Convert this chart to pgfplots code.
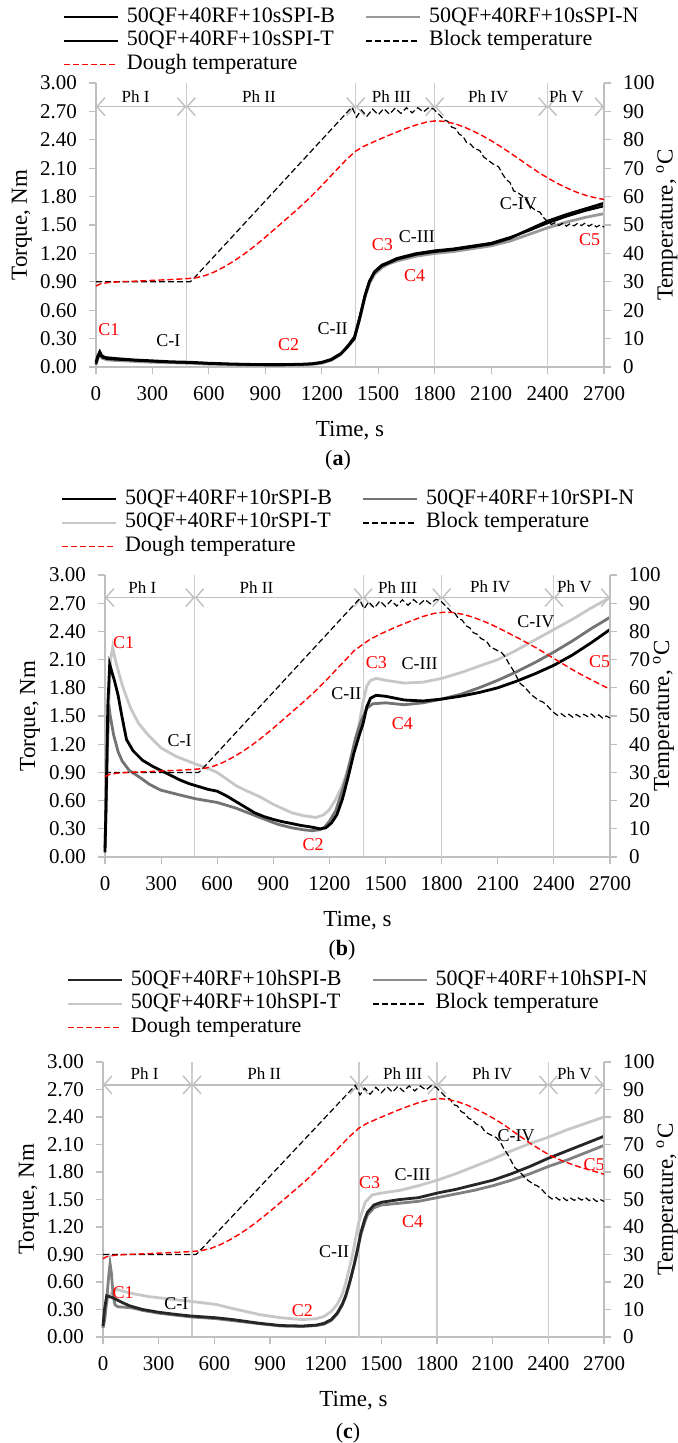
\documentclass[border=0pt]{standalone}
\usepackage{fontspec}
\setmainfont{Liberation Serif}
\usepackage{pgfplots}
\pgfplotsset{compat=1.18}
\usetikzlibrary{arrows.meta}
\definecolor{axgray}{RGB}{191,191,191}
\definecolor{phgray}{RGB}{205,205,205}
\definecolor{cred}{RGB}{255,0,0}
\pgfplotsset{
  common/.style={scale only axis, xmin=0, xmax=2700, clip=false,
    tick align=outside, major tick length=3.5pt,
    every tick/.style={axgray, line width=0.6pt},
    axis line style={axgray, line width=0.7pt},
    ticklabel style={font=\fontsize{10.5}{12}\selectfont},
    /pgf/number format/assume math mode=true,
    label style={font=\fontsize{11.5}{13}\selectfont},
  },
  torque/.style={common, axis x line*=bottom, axis y line*=left,
    ymin=0, ymax=3, ytick={0,0.3,0.6,0.9,1.2,1.5,1.8,2.1,2.4,2.7,3},
    yticklabel style={/pgf/number format/.cd, fixed, fixed zerofill, precision=2, /tikz/.cd, xshift=-2.5pt},
    xtick={0,300,...,2700}, xticklabel style={/pgf/number format/1000 sep={}, yshift=-2.5pt},
    xlabel={Time, s}, ylabel={Torque, Nm},
    xlabel style={at={(axis description cs:0.5,0)}, anchor=center, yshift=-32pt},
  },
  temp/.style={common, axis x line=none, xtick=\empty, axis y line*=right,
    ymin=0, ymax=100, ytick={0,10,...,100},
    yticklabel style={xshift=2.5pt},
    ylabel={Temperature, \textsuperscript{o}C},
    legend columns=2, legend cell align=left,
    legend image code/.code={\draw[##1] (0pt,0pt) -- (27pt,0pt);},
    legend style={draw=none, fill=none, inner sep=0pt, outer sep=0pt, anchor=north west,
      font=\fontsize{11}{13}\selectfont, row sep=1.75pt,
      nodes={inner sep=0pt, text height=7.5pt, text depth=2.5pt},
      /tikz/every odd column/.append style={column sep=4pt},
      /tikz/every even column/.append style={column sep=15pt}},
  },
  phline/.style={phgray, line width=0.6pt, forget plot},
  pharrow/.style={axgray, line width=0.7pt, {Straight Barb[length=4pt,width=9pt]}-{Straight Barb[length=4pt,width=9pt]}, forget plot},
  tq/.style={line width=1.4pt},
  blk/.style={black, line width=0.6pt, dash pattern=on 3pt off 1.5pt},
  dgh/.style={cred, line width=0.7pt, dash pattern=on 3pt off 1.5pt},
}
\newcommand{\phfont}{\fontsize{8.5}{10}\selectfont}
\newcommand{\cfont}{\fontsize{9}{10}\selectfont}
\begin{document}
\begin{tikzpicture}
\useasboundingbox (0,0) rectangle (338.5pt,-721.5pt);

% ================= (a) =================
\begin{axis}[torque, at={(48pt,-41.5pt)}, anchor=north west, width=254pt, height=142pt,
  ylabel style={at={(axis description cs:-0.146,0.5)}, anchor=center}]
\addplot[phline] coordinates {(480,0)(480,3)};
\addplot[phline] coordinates {(1380,0)(1380,3)};
\addplot[phline] coordinates {(1800,0)(1800,3)};
\addplot[phline] coordinates {(2400,0)(2400,3)};
\addplot[pharrow] coordinates {(0,2.75)(480,2.75)};
\addplot[pharrow] coordinates {(480,2.75)(1380,2.75)};
\addplot[pharrow] coordinates {(1380,2.75)(1800,2.75)};
\addplot[pharrow] coordinates {(1800,2.75)(2400,2.75)};
\addplot[pharrow] coordinates {(2400,2.75)(2700,2.75)};
\node[font=\phfont] at (axis cs:210,2.86) {Ph I};
\node[font=\phfont] at (axis cs:866,2.86) {Ph II};
\node[font=\phfont] at (axis cs:1570,2.86) {Ph III};
\node[font=\phfont] at (axis cs:2085,2.86) {Ph IV};
\node[font=\phfont] at (axis cs:2500,2.86) {Ph V};
% N
\addplot[tq, black!40] coordinates {(0,0.02)(10,0.09)(20,0.12)(35,0.09)(60,0.075)(100,0.07)(200,0.06)(300,0.05)(400,0.045)(500,0.04)(600,0.03)(700,0.025)(800,0.02)(900,0.018)(1000,0.018)(1100,0.022)(1150,0.028)(1200,0.04)(1250,0.07)(1300,0.13)(1340,0.22)(1373,0.3)(1400,0.5)(1430,0.74)(1453,0.88)(1480,0.98)(1520,1.05)(1556,1.09)(1600,1.12)(1700,1.17)(1800,1.2)(1900,1.22)(2000,1.25)(2100,1.28)(2200,1.33)(2300,1.4)(2400,1.47)(2500,1.53)(2600,1.58)(2700,1.62)};
% B
\addplot[tq, black] coordinates {(0,0.05)(10,0.12)(20,0.16)(30,0.12)(50,0.1)(100,0.09)(200,0.075)(300,0.065)(400,0.055)(500,0.05)(600,0.04)(700,0.033)(800,0.028)(900,0.025)(1000,0.025)(1100,0.03)(1150,0.035)(1200,0.05)(1250,0.08)(1300,0.14)(1340,0.22)(1373,0.3)(1400,0.5)(1430,0.75)(1453,0.9)(1480,1.0)(1520,1.07)(1556,1.1)(1600,1.14)(1700,1.19)(1800,1.22)(1900,1.24)(2000,1.27)(2100,1.3)(2200,1.36)(2300,1.45)(2400,1.54)(2500,1.61)(2600,1.67)(2700,1.73)};
% T
\addplot[line width=1.1pt, black] coordinates {(0,0.03)(10,0.1)(20,0.13)(35,0.1)(60,0.085)(100,0.08)(200,0.07)(300,0.06)(400,0.05)(500,0.045)(600,0.035)(700,0.03)(800,0.025)(900,0.022)(1000,0.022)(1100,0.027)(1150,0.032)(1200,0.045)(1250,0.075)(1300,0.135)(1340,0.23)(1373,0.32)(1400,0.52)(1430,0.77)(1453,0.91)(1480,1.01)(1520,1.08)(1556,1.11)(1600,1.15)(1700,1.2)(1800,1.23)(1900,1.25)(2000,1.28)(2100,1.31)(2200,1.37)(2300,1.44)(2400,1.52)(2500,1.59)(2600,1.65)(2700,1.7)};
\node[font=\cfont, text=cred] at (axis cs:69,0.39) {C1};
\node[font=\cfont] at (axis cs:385,0.28) {C-I};
\node[font=\cfont, text=cred] at (axis cs:1024,0.24) {C2};
\node[font=\cfont] at (axis cs:1258,0.41) {C-II};
\node[font=\cfont, text=cred] at (axis cs:1522,1.29) {C3};
\node[font=\cfont] at (axis cs:1705,1.38) {C-III};
\node[font=\cfont, text=cred] at (axis cs:1694,0.97) {C4};
\node[font=\cfont] at (axis cs:2245,1.73) {C-IV};
\node[font=\cfont, text=cred] at (axis cs:2624,1.35) {C5};
\end{axis}
\begin{axis}[temp, at={(48pt,-41.5pt)}, anchor=north west, width=254pt, height=142pt,
  ylabel style={at={(axis description cs:1.124,0.5)}, anchor=center},
  legend style={at={(-0.065,1.266)}}]
\addlegendimage{black, line width=1pt}\addlegendentry{50QF+40RF+10sSPI-B}
\addlegendimage{black!40, line width=1pt}\addlegendentry{50QF+40RF+10sSPI-N}
\addlegendimage{black, line width=1pt}\addlegendentry{50QF+40RF+10sSPI-T}
\addplot[blk] coordinates {(0,30)(500,30)(510,30.5)(1360,91.5)(1385,88)(1410,90.5)(1440,88.3)(1470,90.8)(1500,88.8)(1530,91)(1560,89)(1590,91.2)(1620,89.3)(1650,91.3)(1680,89.5)(1710,91.3)(1740,89.8)(1770,91.4)(1795,90.8)(1810,89.8)(1830,88.5)(1850,87)(1870,86.5)(1890,84.5)(1910,84)(1930,82)(1950,81.3)(1970,79)(1990,78.5)(2010,77)(2040,76.2)(2060,74)(2090,72.5)(2110,71.5)(2140,70.5)(2160,68)(2180,66)(2200,65)(2220,62)(2240,61.5)(2260,60.5)(2280,59.5)(2300,57)(2320,56)(2340,55)(2360,54.5)(2380,52.5)(2400,51.2)(2420,50.2)(2440,50.8)(2460,49.8)(2480,50.6)(2500,49.6)(2520,50.5)(2540,49.7)(2560,50.6)(2580,49.8)(2600,50.7)(2620,49.6)(2640,50.4)(2660,49.3)(2680,50)(2700,49.3)};
\addlegendentry{Block temperature}
\addplot[dgh] coordinates {(0,28.5)(20,29.2)(60,29.7)(120,30)(200,30.2)(300,30.5)(400,30.8)(480,31.1)(530,31.4)(580,32.2)(630,33.5)(680,35.2)(730,37.2)(780,39.4)(830,41.9)(880,44.6)(930,47.4)(980,50.3)(1030,53.2)(1080,56.1)(1130,59.2)(1180,62.5)(1230,66)(1280,69.5)(1330,73)(1380,76)(1420,77.6)(1480,79.4)(1550,81.4)(1620,83.3)(1700,85.2)(1760,86.3)(1810,86.7)(1860,86.4)(1910,85.6)(1960,84.4)(2010,82.9)(2060,81.2)(2110,79.3)(2160,77.2)(2210,75)(2260,72.7)(2310,70.4)(2360,68.2)(2410,66.2)(2460,64.4)(2510,62.8)(2560,61.4)(2610,60.3)(2660,59.5)(2700,59)};
\addlegendentry{Dough temperature}
\end{axis}
\node[font=\fontsize{11}{13}\selectfont] at (169pt,-230pt) {(\textbf{a})};

% ================= (b) =================
\begin{axis}[torque, at={(52.5pt,-287.5pt)}, anchor=north west, width=252.5pt, height=141pt,
  ylabel style={at={(axis description cs:-0.1485,0.5)}, anchor=center}]
\addplot[phline] coordinates {(480,0)(480,3)};
\addplot[phline] coordinates {(1380,0)(1380,3)};
\addplot[phline] coordinates {(1800,0)(1800,3)};
\addplot[phline] coordinates {(2400,0)(2400,3)};
\addplot[pharrow] coordinates {(0,2.76)(480,2.76)};
\addplot[pharrow] coordinates {(480,2.76)(1380,2.76)};
\addplot[pharrow] coordinates {(1380,2.76)(1800,2.76)};
\addplot[pharrow] coordinates {(1800,2.76)(2400,2.76)};
\addplot[pharrow] coordinates {(2400,2.76)(2700,2.76)};
\node[font=\phfont] at (axis cs:200,2.87) {Ph I};
\node[font=\phfont] at (axis cs:810,2.87) {Ph II};
\node[font=\phfont] at (axis cs:1565,2.87) {Ph III};
\node[font=\phfont] at (axis cs:2060,2.87) {Ph IV};
\node[font=\phfont] at (axis cs:2510,2.87) {Ph V};
% T light
\addplot[tq, black!22] coordinates {(0,0.1)(10,0.8)(20,1.6)(30,2.1)(41,2.23)(55,2.1)(75,1.95)(92,1.83)(115,1.7)(138,1.58)(180,1.42)(230,1.3)(300,1.16)(380,1.07)(483,0.99)(540,0.95)(599,0.9)(650,0.83)(700,0.76)(750,0.71)(829,0.64)(900,0.56)(944,0.52)(1000,0.47)(1060,0.44)(1129,0.42)(1170,0.45)(1198,0.5)(1230,0.6)(1267,0.75)(1290,0.88)(1313,1.03)(1340,1.25)(1359,1.42)(1380,1.65)(1400,1.82)(1420,1.88)(1450,1.9)(1500,1.88)(1600,1.85)(1700,1.86)(1800,1.9)(1900,1.96)(2000,2.03)(2100,2.1)(2200,2.2)(2300,2.31)(2400,2.42)(2500,2.53)(2600,2.65)(2700,2.76)};
% N mid
\addplot[tq, black!55] coordinates {(0,0.1)(5,0.5)(12,1.2)(20,1.62)(28,1.5)(46,1.3)(70,1.12)(92,1.02)(130,0.92)(184,0.85)(240,0.77)(300,0.71)(400,0.66)(483,0.62)(600,0.58)(700,0.52)(829,0.42)(921,0.35)(1000,0.31)(1060,0.29)(1106,0.28)(1150,0.29)(1175,0.32)(1200,0.38)(1233,0.49)(1260,0.65)(1290,0.85)(1320,1.1)(1340,1.27)(1370,1.45)(1400,1.58)(1430,1.63)(1500,1.64)(1600,1.62)(1700,1.64)(1800,1.68)(1900,1.73)(2000,1.8)(2100,1.88)(2200,1.97)(2300,2.07)(2400,2.18)(2500,2.3)(2600,2.43)(2700,2.55)};
% B black
\addplot[tq, black] coordinates {(0,0.05)(8,0.8)(15,1.6)(25,2.05)(35,1.98)(50,1.88)(70,1.72)(90,1.5)(115,1.25)(150,1.13)(200,1.03)(250,0.97)(300,0.92)(350,0.87)(400,0.82)(450,0.78)(500,0.75)(550,0.72)(600,0.7)(650,0.65)(700,0.59)(750,0.53)(800,0.47)(850,0.43)(900,0.4)(950,0.375)(1000,0.355)(1050,0.335)(1100,0.32)(1150,0.3)(1180,0.31)(1210,0.36)(1240,0.45)(1270,0.62)(1300,0.85)(1330,1.1)(1360,1.3)(1380,1.42)(1400,1.6)(1420,1.69)(1450,1.72)(1500,1.71)(1550,1.69)(1600,1.67)(1700,1.66)(1800,1.68)(1900,1.71)(2000,1.75)(2100,1.8)(2200,1.87)(2300,1.95)(2400,2.04)(2500,2.15)(2600,2.28)(2700,2.42)};
\node[font=\cfont, text=cred] at (axis cs:99,2.28) {C1};
\node[font=\cfont] at (axis cs:399,1.24) {C-I};
\node[font=\cfont, text=cred] at (axis cs:1113,0.13) {C2};
\node[font=\cfont] at (axis cs:1290,1.74) {C-II};
\node[font=\cfont, text=cred] at (axis cs:1451,2.07) {C3};
\node[font=\cfont] at (axis cs:1682,2.06) {C-III};
\node[font=\cfont, text=cred] at (axis cs:1590,1.42) {C4};
\node[font=\cfont] at (axis cs:2304,2.50) {C-IV};
\node[font=\cfont, text=cred] at (axis cs:2645,2.08) {C5};
\end{axis}
\begin{axis}[temp, at={(52.5pt,-287.5pt)}, anchor=north west, width=252.5pt, height=141pt,
  ylabel style={at={(axis description cs:1.106,0.5)}, anchor=center},
  legend style={at={(-0.087,1.3035)}}]
\addlegendimage{black, line width=1pt}\addlegendentry{50QF+40RF+10rSPI-B}
\addlegendimage{black!55, line width=1pt}\addlegendentry{50QF+40RF+10rSPI-N}
\addlegendimage{black!22, line width=1pt}\addlegendentry{50QF+40RF+10rSPI-T}
\addplot[blk] coordinates {(0,30)(500,30)(510,30.5)(1360,91.5)(1385,88)(1410,90.5)(1440,88.3)(1470,90.8)(1500,88.8)(1530,91)(1560,89)(1590,91.2)(1620,89.3)(1650,91.3)(1680,89.5)(1710,91.3)(1740,89.8)(1770,91.4)(1795,90.8)(1810,89.8)(1830,88.5)(1850,87)(1870,86.5)(1890,84.5)(1910,84)(1930,82)(1950,81.3)(1970,79.5)(1990,79)(2010,77.5)(2040,76.5)(2060,74.5)(2090,73.5)(2120,72.5)(2140,71)(2160,68.5)(2180,66.5)(2200,64)(2220,61.5)(2240,60.5)(2260,59)(2280,57.5)(2300,56.5)(2320,55.5)(2340,55)(2360,54)(2380,52.5)(2400,51.2)(2420,50.2)(2440,50.8)(2460,49.8)(2480,50.6)(2500,49.6)(2520,50.5)(2540,49.7)(2560,50.6)(2580,49.8)(2600,50.7)(2620,49.6)(2640,50.4)(2660,49.3)(2680,50)(2700,49.3)};
\addlegendentry{Block temperature}
\addplot[dgh] coordinates {(0,28.5)(20,29.2)(60,29.7)(120,30)(200,30.2)(300,30.5)(400,30.8)(480,31.1)(530,31.4)(580,32.2)(630,33.5)(680,35.2)(730,37.2)(780,39.4)(830,41.9)(880,44.6)(930,47.4)(980,50.3)(1030,53.2)(1080,56.1)(1130,59.2)(1180,62.5)(1230,66)(1280,69.5)(1330,73)(1380,75.5)(1420,77.3)(1480,79.3)(1550,81.4)(1620,83.3)(1700,85.3)(1760,86.4)(1810,86.8)(1860,86.7)(1910,86.1)(1960,85.2)(2010,84)(2060,82.6)(2110,81)(2160,79.3)(2210,77.6)(2260,75.8)(2310,74)(2360,72)(2410,70)(2460,68)(2510,66)(2560,64.2)(2610,62.5)(2660,60.8)(2700,59.5)};
\addlegendentry{Dough temperature}
\end{axis}
\node[font=\fontsize{11}{13}\selectfont] at (171pt,-475pt) {(\textbf{b})};

% ================= (c) =================
\begin{axis}[torque, at={(51.5pt,-531pt)}, anchor=north west, width=250.5pt, height=137.5pt,
  ylabel style={at={(axis description cs:-0.148,0.5)}, anchor=center}]
\addplot[phline] coordinates {(480,0)(480,3)};
\addplot[phline] coordinates {(1380,0)(1380,3)};
\addplot[phline] coordinates {(1800,0)(1800,3)};
\addplot[phline] coordinates {(2400,0)(2400,3)};
\addplot[pharrow] coordinates {(0,2.75)(480,2.75)};
\addplot[pharrow] coordinates {(480,2.75)(1380,2.75)};
\addplot[pharrow] coordinates {(1380,2.75)(1800,2.75)};
\addplot[pharrow] coordinates {(1800,2.75)(2400,2.75)};
\addplot[pharrow] coordinates {(2400,2.75)(2700,2.75)};
\node[font=\phfont] at (axis cs:224,2.87) {Ph I};
\node[font=\phfont] at (axis cs:869,2.87) {Ph II};
\node[font=\phfont] at (axis cs:1615,2.87) {Ph III};
\node[font=\phfont] at (axis cs:2097,2.87) {Ph IV};
\node[font=\phfont] at (axis cs:2540,2.87) {Ph V};
% T light
\addplot[tq, black!22] coordinates {(0,0.1)(10,0.25)(25,0.42)(45,0.48)(74,0.52)(144,0.48)(250,0.44)(377,0.41)(470,0.39)(610,0.355)(700,0.31)(843,0.245)(959,0.21)(1075,0.19)(1150,0.2)(1192,0.225)(1230,0.28)(1262,0.355)(1290,0.47)(1308,0.59)(1343,0.88)(1378,1.25)(1413,1.47)(1450,1.55)(1500,1.57)(1600,1.6)(1700,1.65)(1800,1.71)(1900,1.78)(2000,1.86)(2100,1.94)(2200,2.03)(2300,2.11)(2400,2.18)(2500,2.26)(2600,2.33)(2700,2.4)};
% N mid
\addplot[tq, black!50] coordinates {(0,0.1)(10,0.2)(20,0.4)(30,0.65)(38,0.8)(45,0.7)(55,0.45)(65,0.35)(80,0.33)(150,0.32)(214,0.29)(300,0.26)(470,0.22)(610,0.2)(843,0.145)(959,0.12)(1075,0.115)(1150,0.125)(1192,0.14)(1230,0.18)(1262,0.25)(1290,0.35)(1308,0.44)(1330,0.6)(1355,0.8)(1375,1.0)(1390,1.12)(1410,1.25)(1425,1.33)(1460,1.41)(1500,1.44)(1600,1.46)(1700,1.48)(1800,1.52)(1900,1.56)(2000,1.6)(2100,1.65)(2200,1.71)(2300,1.78)(2400,1.86)(2500,1.93)(2600,2.01)(2700,2.09)};
% B black
\addplot[tq, black!85] coordinates {(0,0.12)(8,0.3)(20,0.45)(35,0.44)(51,0.43)(100,0.38)(144,0.34)(214,0.3)(300,0.27)(400,0.245)(470,0.23)(610,0.21)(700,0.19)(843,0.15)(959,0.125)(1075,0.12)(1150,0.13)(1192,0.15)(1230,0.19)(1262,0.26)(1290,0.36)(1308,0.45)(1330,0.6)(1355,0.8)(1375,0.98)(1390,1.14)(1410,1.28)(1425,1.36)(1460,1.44)(1500,1.47)(1600,1.5)(1700,1.52)(1800,1.57)(1900,1.61)(2000,1.66)(2100,1.71)(2200,1.78)(2300,1.86)(2400,1.95)(2500,2.03)(2600,2.11)(2700,2.19)};
\node[font=\cfont, text=cred] at (axis cs:109,0.48) {C1};
\node[font=\cfont] at (axis cs:396,0.36) {C-I};
\node[font=\cfont, text=cred] at (axis cs:1075,0.29) {C2};
\node[font=\cfont] at (axis cs:1246,0.93) {C-II};
\node[font=\cfont, text=cred] at (axis cs:1437,1.68) {C3};
\node[font=\cfont] at (axis cs:1669,1.77) {C-III};
\node[font=\cfont, text=cred] at (axis cs:1669,1.26) {C4};
\node[font=\cfont] at (axis cs:2227,2.20) {C-IV};
\node[font=\cfont, text=cred] at (axis cs:2647,1.88) {C5};
\end{axis}
\begin{axis}[temp, at={(51.5pt,-531pt)}, anchor=north west, width=250.5pt, height=137.5pt,
  ylabel style={at={(axis description cs:1.126,0.5)}, anchor=center},
  legend style={at={(-0.072,1.333)}}]
\addlegendimage{black!85, line width=1pt}\addlegendentry{50QF+40RF+10hSPI-B}
\addlegendimage{black!45, line width=1pt}\addlegendentry{50QF+40RF+10hSPI-N}
\addlegendimage{black!22, line width=1pt}\addlegendentry{50QF+40RF+10hSPI-T}
\addplot[blk] coordinates {(0,30)(500,30)(510,30.5)(1360,91.5)(1385,88)(1410,90.5)(1440,88.3)(1470,90.8)(1500,88.8)(1530,91)(1560,89)(1590,91.2)(1620,89.3)(1650,91.3)(1680,89.5)(1710,91.3)(1740,89.8)(1770,91.4)(1795,90.8)(1810,89.8)(1830,88.5)(1850,87)(1870,86.5)(1890,84.5)(1910,84)(1930,82)(1950,81.3)(1970,79.5)(1990,79)(2010,77.5)(2040,76.5)(2060,74.5)(2090,73.5)(2120,72.5)(2140,71)(2160,68.5)(2180,66.5)(2200,64)(2220,61.5)(2240,60.5)(2260,59)(2280,57.5)(2300,56.5)(2320,55.5)(2340,55)(2360,54)(2380,52.5)(2400,51.2)(2420,50.2)(2440,50.8)(2460,49.8)(2480,50.6)(2500,49.6)(2520,50.5)(2540,49.7)(2560,50.6)(2580,49.8)(2600,50.7)(2620,49.6)(2640,50.4)(2660,49.3)(2680,50)(2700,49.3)};
\addlegendentry{Block temperature}
\addplot[dgh] coordinates {(0,28.5)(20,29.2)(60,29.7)(120,30)(200,30.2)(300,30.5)(400,30.8)(480,31.1)(530,31.4)(580,32.2)(630,33.5)(680,35.2)(730,37.2)(780,39.4)(830,41.9)(880,44.6)(930,47.4)(980,50.3)(1030,53.2)(1080,56.1)(1130,59.2)(1180,62.5)(1230,66)(1280,69.5)(1330,73)(1380,76)(1420,77.6)(1480,79.4)(1550,81.4)(1620,83.3)(1700,85.2)(1760,86.3)(1810,86.7)(1860,86.4)(1910,85.6)(1960,84.4)(2010,82.9)(2060,81.2)(2110,79.3)(2160,77.2)(2210,74.8)(2260,72.4)(2310,70.1)(2360,68)(2410,66)(2460,64.5)(2510,63.2)(2560,62)(2610,61)(2660,60)(2700,59.2)};
\addlegendentry{Dough temperature}
\end{axis}
\node[font=\fontsize{11}{13}\selectfont] at (174pt,-716.5pt) {(\textbf{c})};
\end{tikzpicture}
\end{document}
